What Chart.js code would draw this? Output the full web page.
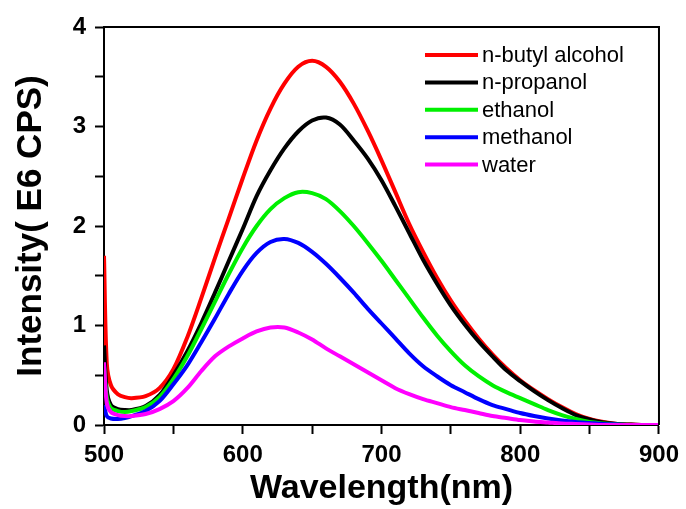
<!DOCTYPE html>
<html>
<head>
<meta charset="utf-8">
<script src="https://cdn.jsdelivr.net/npm/chart.js@4.4.1/dist/chart.umd.min.js"></script>
<style>
  html, body { margin: 0; padding: 0; background: #ffffff; }
  #wrap { width: 686px; height: 509px; }
</style>
</head>
<body>
<div id="wrap"><canvas id="spectra" width="686" height="509"></canvas></div>
<script>
"use strict";

// wavelength (nm) sample points
const wavelengths = [500, 502, 505, 510, 515, 520, 530, 540, 550, 560, 570, 580, 590, 600,
    610, 620, 630, 640, 650, 660, 670, 680, 690, 700, 710, 720, 730, 740, 750, 760, 770,
    780, 790, 800, 810, 820, 830, 840, 850, 860, 870, 880, 890, 900];

// intensity, E6 CPS
const butanol = [1.70, 0.62, 0.40, 0.31, 0.28, 0.27, 0.29, 0.37, 0.56, 0.88, 1.27, 1.68, 2.08, 2.48,
    2.86, 3.18, 3.43, 3.60, 3.66, 3.60, 3.45, 3.23, 2.96, 2.66, 2.34, 2.02, 1.74, 1.48, 1.25, 1.05, 0.87,
    0.71, 0.57, 0.45, 0.35, 0.26, 0.18, 0.11, 0.06, 0.03, 0.01, 0.005, 0, 0];
const propanol = [0.80, 0.35, 0.20, 0.16, 0.15, 0.15, 0.19, 0.30, 0.50, 0.74, 1.02, 1.33, 1.65, 1.97,
    2.30, 2.56, 2.78, 2.95, 3.06, 3.09, 3.02, 2.86, 2.68, 2.46, 2.20, 1.93, 1.66, 1.42, 1.20, 1.01, 0.84,
    0.69, 0.55, 0.44, 0.34, 0.25, 0.17, 0.10, 0.055, 0.025, 0.01, 0.005, 0, 0];
const ethanol = [0.60, 0.28, 0.17, 0.14, 0.13, 0.14, 0.18, 0.28, 0.46, 0.69, 0.96, 1.24, 1.52, 1.78,
    2.00, 2.17, 2.28, 2.34, 2.33, 2.27, 2.15, 2.00, 1.83, 1.65, 1.46, 1.27, 1.08, 0.90, 0.74, 0.60, 0.49,
    0.40, 0.33, 0.27, 0.21, 0.15, 0.10, 0.06, 0.03, 0.015, 0.005, 0, 0, 0];
const methanol = [0.20, 0.09, 0.065, 0.06, 0.07, 0.09, 0.14, 0.24, 0.41, 0.60, 0.83, 1.07, 1.32, 1.55,
    1.73, 1.84, 1.87, 1.83, 1.74, 1.62, 1.48, 1.33, 1.17, 1.02, 0.87, 0.72, 0.59, 0.49, 0.40, 0.33, 0.26,
    0.20, 0.16, 0.12, 0.09, 0.065, 0.045, 0.03, 0.02, 0.01, 0.005, 0, 0, 0];
const water = [0.63, 0.22, 0.13, 0.10, 0.09, 0.09, 0.11, 0.16, 0.24, 0.37, 0.54, 0.69, 0.79, 0.87,
    0.94, 0.98, 0.98, 0.93, 0.86, 0.77, 0.69, 0.61, 0.53, 0.45, 0.37, 0.31, 0.26, 0.22, 0.18, 0.15, 0.12,
    0.09, 0.07, 0.05, 0.035, 0.025, 0.015, 0.01, 0.005, 0, 0, 0, 0, 0];

const seriesNames = ["n-butyl alcohol", "n-propanol", "ethanol", "methanol", "water"];
const seriesValues = [butanol, propanol, ethanol, methanol, water];
const COLORS = [
    '#ff0000', // red
    '#000000', // black
    '#00f000', // green
    '#0000ff', // blue
    '#ff00ff', // magenta
];

const xTicks = [500, 600, 700, 800, 900];
const yTicks = [0, 1, 2, 3, 4];

const FONT = "'Liberation Sans', Arial, sans-serif";

function points(values) {
    return wavelengths.map((w, i) => ({ x: w, y: values[i] }));
}

// box round the plot and the legend inside it
const frameAndLegend = {
    id: 'frameAndLegend',
    afterDatasetsDraw(chart) {
        const ctx = chart.ctx;
        const a = chart.chartArea;
        ctx.save();
        ctx.strokeStyle = '#000';
        ctx.lineWidth = 2;
        ctx.beginPath();
        ctx.moveTo(a.left, a.top);
        ctx.lineTo(a.right, a.top);
        ctx.lineTo(a.right, a.bottom);
        ctx.stroke();

        ctx.font = "22px " + FONT;
        ctx.textBaseline = 'middle';
        ctx.textAlign = 'left';
        seriesNames.forEach(function _legend(name, i) {
            const y = 55 + i * 27.4;
            ctx.strokeStyle = COLORS[i];
            ctx.lineWidth = 4;
            ctx.beginPath();
            ctx.moveTo(425, y);
            ctx.lineTo(478, y);
            ctx.stroke();
            ctx.fillStyle = '#000';
            ctx.fillText(name, 482, y + 1);
        });
        ctx.restore();
    }
};

window.onload = function _onload() {
    const ctx = document.getElementById('spectra').getContext('2d');
    // red drawn last so it sits on top, as in the original
    const datasets = seriesNames.map((name, i) => ({
        label: name,
        data: points(seriesValues[i]),
        borderColor: COLORS[i],
        backgroundColor: COLORS[i],
        borderWidth: 4,
        pointRadius: 0,
        fill: false,
        tension: 0.3
    })).reverse();

    new Chart(ctx, {
        type: 'line',
        data: { datasets: datasets },
        plugins: [frameAndLegend],
        options: {
            responsive: false,
            animation: false,
            layout: { padding: { top: 27, right: 26, left: 0, bottom: 0 } },
            scales: {
                x: {
                    type: 'linear',
                    min: 500,
                    max: 900,
                    ticks: {
                        stepSize: 50,
                        autoSkip: false,
                        maxRotation: 0,
                        color: '#000',
                        padding: 7,
                        font: { family: FONT, size: 24, weight: 'bold' },
                        callback: v => xTicks.includes(v) ? v : ''
                    },
                    grid: { drawOnChartArea: false, tickLength: 9, tickWidth: 2, tickColor: '#000' },
                    border: { color: '#000', width: 2 },
                    title: {
                        display: true,
                        text: 'Wavelength(nm)',
                        color: '#000',
                        padding: { top: 0, bottom: 0 },
                        font: { family: FONT, size: 34, weight: 'bold' }
                    },
                    afterFit: s => { s.height = 84; }
                },
                y: {
                    min: 0,
                    max: 4,
                    ticks: {
                        stepSize: 0.5,
                        autoSkip: false,
                        color: '#000',
                        padding: 9,
                        font: { family: FONT, size: 24, weight: 'bold' },
                        callback: v => yTicks.includes(v) ? v : ''
                    },
                    grid: { drawOnChartArea: false, tickLength: 9, tickWidth: 2, tickColor: '#000' },
                    border: { color: '#000', width: 2 },
                    title: {
                        display: true,
                        text: 'Intensity( E6 CPS)',
                        color: '#000',
                        padding: { top: 10, bottom: 0 },
                        font: { family: FONT, size: 35, weight: 'bold' }
                    },
                    afterFit: s => { s.width = 104; }
                }
            },
            plugins: {
                legend: { display: false },
                tooltip: { enabled: false }
            }
        }
    });
};
</script>
</body>
</html>
